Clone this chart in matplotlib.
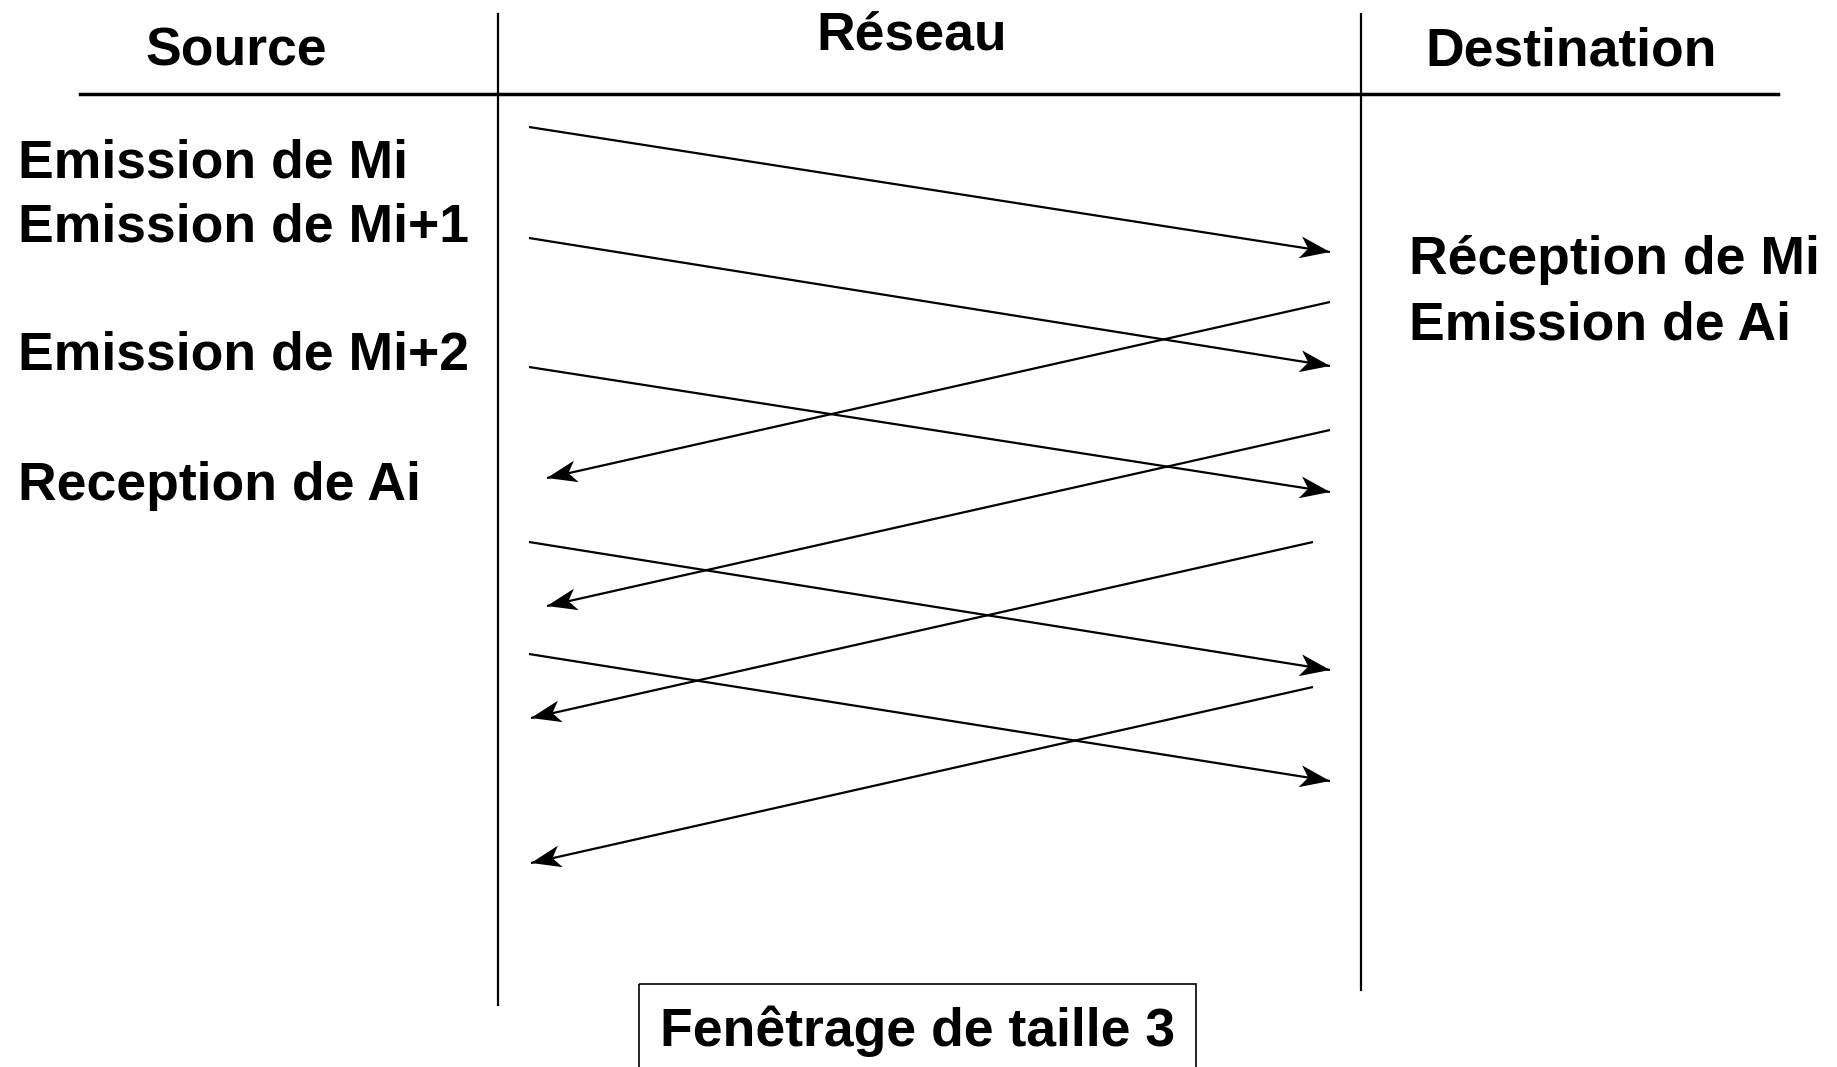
import matplotlib.pyplot as plt
import numpy as np
from matplotlib.patches import Polygon, Rectangle

# diagram coordinates are in image pixels (y going down)
W, H = 1837, 1067

headers = ["Source", "Réseau", "Destination"]
header_x = [236, 912, 1571]
header_y = [66, 49, 65]

source_labels = ["Emission de Mi", "Emission de Mi+1", "Emission de Mi+2", "Reception de Ai"]
source_label_y = [177, 242, 370, 500]

dest_labels = ["Réception de Mi", "Emission de Ai"]
dest_label_y = [274, 339]

# messages: source -> destination
msg_x0, msg_x1 = 529, 1330
msg_y0 = [127, 238, 367, 542, 654]
msg_y1 = [252, 366, 492, 670, 781]

# acks: destination -> source
ack_x0 = [1330, 1330, 1313, 1313]
ack_y0 = [302, 430, 542, 687]
ack_x1 = [547, 547, 531, 531]
ack_y1 = [478, 606, 718, 863]

caption = "Fenêtrage de taille 3"

plt.rcParams['font.family'] = ['Liberation Sans', 'DejaVu Sans']
FS = 38.5

fig = plt.figure(figsize=(W / 100, H / 100), dpi=100)
ax = fig.add_axes([0, 0, 1, 1])
ax.set_xlim(0, W)
ax.set_ylim(H, 0)
ax.axis('off')


def arrow(x0, y0, x1, y1):
    ax.plot([x0, x1], [y0, y1], color='black', lw=1.6, solid_capstyle='butt')
    d = np.array([x1 - x0, y1 - y0], dtype=float)
    d /= np.hypot(*d)
    n = np.array([-d[1], d[0]])
    tip = np.array([x1, y1], dtype=float)
    back = tip - 30 * d
    notch = tip - 22 * d
    pts = [tip, back + 11 * n, notch, back - 11 * n]
    ax.add_patch(Polygon(pts, closed=True, color='black', lw=0))


# frame lines
ax.plot([80, 1778], [94, 94], color='black', lw=2.5)
ax.plot([498, 498], [14, 1005], color='black', lw=1.6)
ax.plot([1361, 1361], [14, 990], color='black', lw=1.6)

for t, x, y in zip(headers, header_x, header_y):
    ax.text(x, y, t, ha='center', va='baseline', fontsize=FS, fontweight='bold')

for t, y in zip(source_labels, source_label_y):
    ax.text(18, y, t, ha='left', va='baseline', fontsize=FS, fontweight='bold')

for t, y in zip(dest_labels, dest_label_y):
    ax.text(1409, y, t, ha='left', va='baseline', fontsize=FS, fontweight='bold')

for y0, y1 in zip(msg_y0, msg_y1):
    arrow(msg_x0, y0, msg_x1, y1)

for x0, y0, x1, y1 in zip(ack_x0, ack_y0, ack_x1, ack_y1):
    arrow(x0, y0, x1, y1)

ax.add_patch(Rectangle((639, 984), 557, 100, fill=False, ec='black', lw=1.2))
ax.text(917, 1046, caption, ha='center', va='baseline', fontsize=FS, fontweight='bold')

fig.savefig("out.png", dpi=100)
